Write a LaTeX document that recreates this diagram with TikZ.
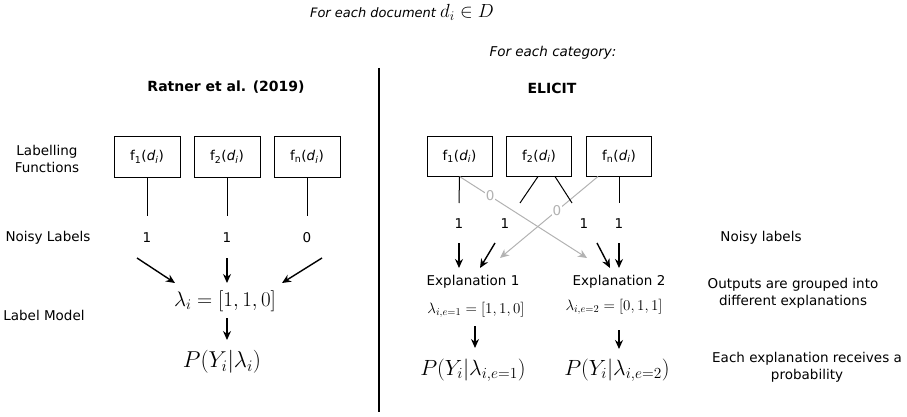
\RequirePackage{fix-cm}
\documentclass[tikz,border=0pt]{standalone}
\usepackage{fontspec}
\setmainfont{DejaVu Sans}
\usetikzlibrary{arrows.meta}

\begin{document}
\begin{tikzpicture}[x=1pt,y=-1pt,
  every node/.style={font=\fontsize{13.5}{17}\selectfont, inner sep=0pt},
  fbox/.style={draw, line width=1pt, minimum width=66pt, minimum height=40pt},
  link/.style={line width=1pt},
  arr/.style={line width=1.4pt, -{Stealth[length=9pt,width=8pt]}},
  greyarr/.style={line width=1pt, draw=black!30, -{Stealth[length=9pt,width=8pt]}},
  zero/.style={text=black!30, fill=white, inner sep=1pt},
  lam/.style={font=\fontsize{21}{24}\selectfont},
  prob/.style={font=\fontsize{23}{27}\selectfont}]

  \useasboundingbox (0,0) rectangle (907,417);

  %%%%% HEADINGS %%%%%
  \node[font=\fontsize{13}{17}\selectfont\itshape] (doc) at (402,12) {For each document {\fontsize{19}{20}\selectfont$d_i \in D$}};
  \node[font=\fontsize{13.5}{17}\selectfont\itshape] (cat) at (553,53) {For each category:};
  \node[font=\fontsize{14}{17}\selectfont\bfseries] (ratner) at (226,87) {Ratner et al. (2019)};
  \node[font=\fontsize{14}{17}\selectfont\bfseries] (elicit) at (552,88) {ELICIT};

  \draw[line width=1.2pt] (379,68) -- (379,412);

  %%%%% ROW LABELS %%%%%
  \node[align=center] (lfL) at (47,159) {Labelling\\Functions};
  \node (nlL) at (48,238) {Noisy Labels};
  \node (lmL) at (44,315) {Label Model};

  \node (nlR) at (761,238) {Noisy labels};
  \node[align=center] (grpR) at (793,293) {Outputs are grouped into\\different explanations};
  \node[align=center] (probR) at (807,367) {Each explanation receives a\\probability};

  %%%%% RATNER %%%%%
  \node[fbox] (f1L) at (147,157) {f\textsubscript{1}(\textit{d}\textsubscript{\textit{i}})};
  \node[fbox] (f2L) at (227,157) {f\textsubscript{2}(\textit{d}\textsubscript{\textit{i}})};
  \node[fbox] (fnL) at (307,157) {f\textsubscript{n}(\textit{d}\textsubscript{\textit{i}})};

  \node (n1L) at (147,238) {1};
  \node (n2L) at (227,238) {1};
  \node (n0L) at (307,238) {0};

  \node[lam] (lamL) at (225,301) {$\lambda_i = [1,1,0]$};
  \node[prob] (probL) at (222,362) {$P(Y_i|\lambda_i)$};

  \draw[link] (f1L.south) -- ([yshift=22pt]n1L.center);
  \draw[link] (f2L.south) -- ([yshift=22pt]n2L.center);
  \draw[link] (fnL.south) -- ([yshift=22pt]n0L.center);

  \draw[arr] ([xshift=-10pt,yshift=-20pt]n1L.center) -- ([xshift=-50pt,yshift=18pt]lamL.center);
  \draw[arr] ([yshift=-20pt]n2L.center) -- ([xshift=2pt,yshift=18pt]lamL.center);
  \draw[arr] ([xshift=15pt,yshift=-20pt]n0L.center) -- ([xshift=57pt,yshift=18pt]lamL.center);
  \draw[arr] ([xshift=2pt,yshift=-17pt]lamL.center) -- ([xshift=5pt,yshift=22pt]probL.center);

  %%%%% ELICIT %%%%%
  \node[fbox, minimum width=65pt, minimum height=39pt] (f1R) at (459.5,156.5) {f\textsubscript{1}(\textit{d}\textsubscript{\textit{i}})};
  \node[fbox, minimum width=65pt, minimum height=39pt] (f2R) at (539,156.5) {f\textsubscript{2}(\textit{d}\textsubscript{\textit{i}})};
  \node[fbox, minimum width=65pt, minimum height=39pt] (fnR) at (619,156.5) {f\textsubscript{n}(\textit{d}\textsubscript{\textit{i}})};

  \node (n1R) at (459,224) {1};
  \node (n2R) at (505,224) {1};
  \node (n3R) at (584,224) {1};
  \node (n4R) at (619,224) {1};

  \node (ex1) at (473,282) {Explanation 1};
  \node (ex2) at (619,282) {Explanation 2};
  \node[font=\fontsize{15}{18}\selectfont] (lam1) at (476,310) {$\lambda_{i,e=1} = [1,1,0]$};
  \node[font=\fontsize{15}{18}\selectfont] (lam2) at (614,307) {$\lambda_{i,e=2} = [0,1,1]$};
  \node[font=\fontsize{22}{26}\selectfont] (prob1) at (473,370) {$P(Y_i|\lambda_{i,e=1})$};
  \node[font=\fontsize{22}{26}\selectfont] (prob2) at (617,370) {$P(Y_i|\lambda_{i,e=2})$};

  \draw[greyarr] (f1R.south) -- node[zero, pos=0.24] {0} ([xshift=-32pt,yshift=24pt]ex2.center);
  \draw[greyarr] ([xshift=-21pt]fnR.south) -- node[zero, pos=0.42] {0} ([xshift=27pt,yshift=24pt]ex1.center);

  \draw[link] (f1R.south) -- ([yshift=21pt]n1R.center);
  \draw[link] ([xshift=-1pt]f2R.south) -- ([xshift=15pt,yshift=21pt]n2R.center);
  \draw[link] ([xshift=16pt]f2R.south) -- ([xshift=-12pt,yshift=21pt]n3R.center);
  \draw[link] (fnR.south) -- ([yshift=21pt]n4R.center);

  \draw[arr] ([yshift=-19pt]n1R.center) -- ([xshift=-14pt,yshift=14pt]ex1.center);
  \draw[arr] ([xshift=-10pt,yshift=-19pt]n2R.center) -- ([xshift=7pt,yshift=14pt]ex1.center);
  \draw[arr] ([xshift=13pt,yshift=-19pt]n3R.center) -- ([xshift=-9pt,yshift=14pt]ex2.center);
  \draw[arr] ([yshift=-19pt]n4R.center) -- ([yshift=14pt]ex2.center);

  \draw[arr] ([xshift=-1pt,yshift=-16pt]lam1.center) -- ([xshift=2pt,yshift=22pt]prob1.center);
  \draw[arr] ([xshift=5pt,yshift=-23pt]lam2.center) -- ([xshift=2pt,yshift=21pt]prob2.center);
\end{tikzpicture}
\end{document}
